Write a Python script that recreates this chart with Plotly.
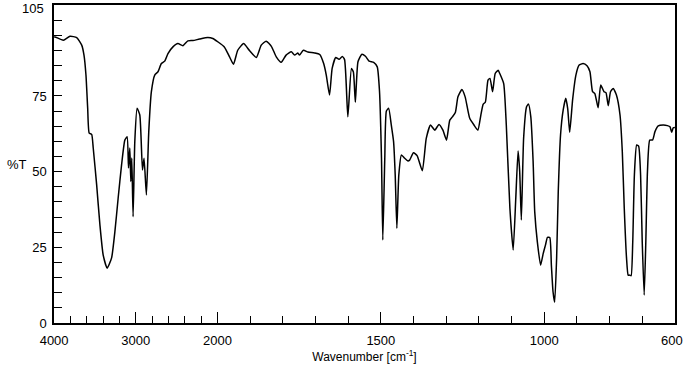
import plotly.graph_objects as go

# Wavenumber (cm-1) and transmittance (%T)
wavenumber = [4000, 3988, 3887, 3805, 3723, 3662, 3634, 3610, 3589, 3570, 3540, 3521, 3479, 3439,
              3399, 3350, 3296, 3256, 3216, 3174, 3134, 3106, 3089, 3073, 3061, 3049, 3033, 3012,
              2984, 2951, 2918, 2899, 2870, 2841, 2809, 2768, 2728, 2687, 2646, 2606, 2545, 2484,
              2423, 2362, 2301, 2220, 2118, 2057, 1999, 1979, 1963, 1951, 1938, 1920, 1902, 1881,
              1866, 1851, 1835, 1820, 1805, 1790, 1774, 1764, 1754, 1749, 1737, 1723, 1703, 1687,
              1675, 1667, 1657, 1649, 1638, 1628, 1618, 1611, 1601, 1590, 1584, 1578, 1570, 1558,
              1547, 1536, 1522, 1511, 1504, 1498, 1494, 1488, 1483, 1476, 1468, 1461, 1456, 1451,
              1445, 1437, 1427, 1417, 1412, 1400, 1389, 1373, 1361, 1348, 1335, 1322, 1310, 1299,
              1289, 1281, 1272, 1264, 1252, 1242, 1228, 1215, 1203, 1194, 1187, 1180, 1172, 1166,
              1158, 1150, 1141, 1136, 1124, 1116, 1105, 1095, 1087, 1080, 1075, 1070, 1063, 1054,
              1048, 1041, 1034, 1029, 1021, 1011, 1003, 996, 990, 983, 978, 973, 968, 962, 957,
              950, 942, 934, 928, 922, 913, 903, 893, 881, 869, 860, 852, 845, 835, 827, 817, 811,
              804, 797, 789, 779, 768, 761, 755, 748, 743, 738, 734, 729, 724, 717, 711, 705, 700,
              694, 689, 684, 677, 668, 661, 651, 636, 623, 615, 610, 605, 600]
transmittance = [94.5, 94.5, 93.4, 94.7, 94.3, 91.8, 88.5, 81.9, 71.0, 62.7, 62.3, 57.8, 45.6, 32.4,
                 22.4, 18.1, 21.5, 30.1, 41.2, 52.2, 60.4, 61.5, 51.2, 57.8, 46.7, 54.5, 35.1, 59.9,
                 70.9, 68.7, 50.5, 54.4, 42.3, 63.2, 76.4, 81.9, 83.0, 85.7, 86.5, 89.0, 91.2, 92.3,
                 91.6, 93.2, 93.3, 93.8, 94.3, 94.0, 92.9, 91.2, 87.9, 85.5, 90.1, 92.3, 90.0, 87.7,
                 91.8, 93.1, 91.4, 87.9, 86.1, 88.5, 89.6, 88.5, 89.2, 88.5, 90.1, 89.5, 89.2, 88.7,
                 85.7, 81.9, 75.3, 84.1, 87.7, 87.1, 88.0, 87.0, 68.1, 84.1, 82.9, 72.9, 86.3, 88.8,
                 88.1, 86.5, 86.1, 84.6, 76.4, 54.4, 27.4, 54.0, 70.0, 70.9, 65.4, 59.9, 48.9, 31.3,
                 48.9, 55.5, 54.4, 53.5, 53.8, 56.2, 55.3, 50.3, 61.0, 65.4, 63.7, 65.6, 63.7, 60.4,
                 67.0, 68.1, 69.5, 74.7, 77.1, 74.7, 67.6, 65.4, 63.7, 68.6, 72.2, 73.0, 80.2, 80.8,
                 76.4, 82.4, 83.5, 82.4, 79.1, 65.4, 37.9, 24.1, 41.2, 56.8, 50.0, 34.0, 61.0, 71.4,
                 72.3, 68.1, 53.5, 36.7, 26.8, 19.1, 23.0, 25.8, 28.3, 28.2, 19.0, 10.3, 6.8, 21.4, 43.4,
                 62.1, 70.3, 74.2, 70.7, 63.0, 73.8, 81.9, 85.2, 85.7, 85.0, 83.0, 76.4, 75.8, 71.1, 78.6, 76.4, 76.1,
                 71.8, 76.4, 77.5, 75.3, 68.7, 56.6, 37.9, 21.4, 15.8, 15.8, 15.6, 26.8, 48.9, 58.8, 58.4, 48.9,
                 26.8, 9.2, 26.8, 50.0, 60.4, 60.5, 63.2, 65.1, 65.4, 65.2, 64.8, 63.0, 64.5, 64.6]

x_tick_labels = [4000, 3000, 2000, 1500, 1000, 600]
x_minor = [3800, 3600, 3400, 3200, 2800, 2600, 2400, 2200,
           1900, 1800, 1700, 1600, 1400, 1300, 1200, 1100, 900, 800, 700]
y_tick_labels = [0, 25, 50, 75, 105]
y_minor = [5, 10, 15, 20, 30, 35, 40, 45, 55, 60, 65, 70, 80, 85, 90, 95, 100]


def to_axis(w):
    # Axis scale changes at 2000 cm-1 (4x compressed above 2000)
    return 2000 - w if w <= 2000 else -(w - 2000) / 4.0


fig = go.Figure()
fig.add_trace(go.Scatter(
    x=[to_axis(w) for w in wavenumber], y=transmittance, mode="lines",
    line=dict(color="black", width=1.5, shape="spline", smoothing=0.5),
    hoverinfo="skip", showlegend=False, cliponaxis=True))

font = dict(family="Liberation Sans, Arial, sans-serif", size=13, color="black")
# Edge labels (last tick of each axis) drawn as annotations so they stay inside the figure
x_text = [str(v) for v in x_tick_labels[:-1]] + [""]
y_text = [str(v) for v in y_tick_labels[:-1]] + [""]

fig.update_layout(
    width=683, height=376, paper_bgcolor="white", plot_bgcolor="white",
    margin=dict(l=54, r=8, t=5, b=53, autoexpand=False), font=font,
    xaxis=dict(range=[to_axis(4000) - 0.3, to_axis(600) + 0.3], automargin=False,
               tickvals=[to_axis(v) for v in x_tick_labels], ticktext=x_text,
               ticks="inside", ticklen=11, tickwidth=1, tickcolor="black",
               ticklabelstandoff=5, ticklabeloverflow="allow",
               minor=dict(tickvals=[to_axis(v) for v in x_minor], ticks="inside",
                          ticklen=7, tickwidth=1, tickcolor="black", showgrid=False),
               showline=True, linecolor="black", linewidth=1.5, mirror=True,
               showgrid=False, zeroline=False,
               title=dict(text="Wavenumber [cm<sup>-1</sup>]", font=dict(size=12), standoff=4)),
    yaxis=dict(range=[-0.02, 105.05], automargin=False, tickvals=y_tick_labels, ticktext=y_text,
               ticks="inside", ticklen=8, tickwidth=1, tickcolor="black",
               ticklabelstandoff=3, ticklabeloverflow="allow",
               minor=dict(tickvals=y_minor, ticks="inside", ticklen=8, tickwidth=1,
                          tickcolor="black", showgrid=False),
               showline=True, linecolor="black", linewidth=1.5, mirror=True,
               showgrid=False, zeroline=False),
    annotations=[
        dict(text="%T", xref="paper", yref="paper", x=-0.0596, y=0.5,
             xanchor="center", yanchor="middle", showarrow=False, font=font),
        dict(text=str(x_tick_labels[-1]), xref="paper", yref="paper", x=1.0129, y=-0.0535,
             xanchor="right", yanchor="middle", showarrow=False, font=font,
             borderpad=0, xshift=1),
        dict(text=str(y_tick_labels[-1]), xref="paper", yref="paper", x=-0.0145, y=1.0157,
             xanchor="right", yanchor="top", showarrow=False, font=font, borderpad=0),
    ],
)

fig.write_html("out.html", config={"displayModeBar": False},
               post_script="document.body.style.margin='0';")
